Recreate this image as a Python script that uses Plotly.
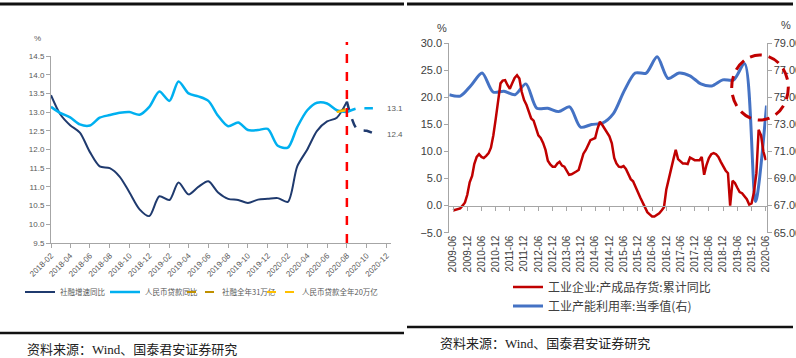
import pandas as pd
import plotly.graph_objects as go

W, H = 796, 358

# ---------------- Left chart data ----------------
left_dates = pd.date_range("2018-02-01", "2020-08-01", freq="MS")
tsf_growth = [13.45, 12.95, 12.65, 12.45, 11.93, 11.55, 11.5, 11.27, 10.85, 10.4, 10.22,
              10.75, 10.65, 11.12, 10.8, 11.0, 11.15, 10.85, 10.68, 10.65, 10.57, 10.66,
              10.68, 10.7, 10.6, 11.55, 12.0, 12.5, 12.75, 12.85, 13.28]
loan_growth = [13.14, 12.98, 12.86, 12.67, 12.64, 12.85, 12.92, 12.98, 13.0, 12.93, 13.14,
               13.55, 13.3, 13.82, 13.5, 13.42, 13.3, 12.9, 12.62, 12.72, 12.52, 12.52,
               12.55, 12.1, 12.05, 12.6, 13.05, 13.25, 13.23, 13.05, 13.0]
fc_dates = ["2020-08-01", "2020-09-01", "2020-10-01", "2020-11-01"]
tsf_fc = [13.28, 12.55, 12.5, 12.4]
loan_fc = [13.0, 13.1, 13.1, 13.1]
gold_dates = ["2020-07-01", "2020-08-01"]
tsf31 = [13.0, 13.1]
loan20 = [13.0, 13.05]
left_ticks = pd.date_range("2018-02-01", "2020-12-01", freq="2MS")
left_ticktext = [d.strftime("%Y-%m") for d in left_ticks]

# ---------------- Right chart data ----------------
red_dates = pd.date_range("2009-06-01", "2020-06-01", freq="MS")
inventory_yoy = [
    -0.9, -0.8, -0.7, -0.5, 0.0, 0.6, 2.0,
    4.3, 5.5, 7.7, 9.0, 9.5, 9.0, 8.8, 9.2, 9.7, 10.7, 13.0, 16.0,
    19.8, 22.6, 23.1, 23.2, 22.3, 21.6, 22.6, 23.6, 24.1, 23.5, 21.0, 19.5,
    18.6, 17.3, 16.1, 15.7, 14.5, 13.0, 12.5, 11.6, 10.3, 8.3, 7.6, 7.2,
    7.2, 7.8, 8.1, 7.4, 7.2, 6.5, 5.7, 5.8, 6.0, 6.3, 6.6, 8.0,
    9.6, 10.3, 11.2, 12.1, 12.3, 12.5, 14.2, 15.5, 14.9, 14.2, 13.4, 12.8,
    11.5, 8.8, 7.8, 7.2, 7.1, 7.3, 6.8, 5.8, 4.9, 4.5, 3.6, 2.5,
    1.5, 0.6, -0.4, -1.2, -1.6, -2.0, -2.0, -1.7, -1.4, -0.9, -0.3, 3.0,
    5.2, 6.8, 8.5, 10.3, 8.6, 8.1, 7.8, 7.8, 7.7, 8.9, 8.6, 8.4,
    8.4, 8.4, 9.0, 5.7, 7.5, 8.8, 9.5, 9.7, 9.5, 9.0, 8.1, 7.2,
    6.5, 6.0, 0.0, 4.6, 4.2, 3.3, 2.5, 2.3, 1.8, 1.2, 0.2, 0.4,
    2.5, 6.0, 14.0, 13.0, 10.0, 8.4]
quarters = [f"{y}Q{q}" for y in range(2013, 2021) for q in range(1, 5)][:30]
capacity_util = [75.2, 75.1, 75.9, 76.8, 75.4, 75.45, 75.2, 76.0, 74.2, 74.2,
                 73.95, 74.3, 72.8, 73.0, 73.1, 73.8, 75.5, 76.8, 76.8, 78.0,
                 76.4, 76.8, 76.6, 76.0, 75.85, 76.3, 76.3, 77.5, 67.3, 74.4]
right_ticks = pd.date_range("2009-06-01", "2020-06-01", freq="6MS")
right_ticktext = [d.strftime("%Y-%m") for d in right_ticks]

def px(x):
    return x / W

def py(y):
    return 1 - y / H

fig = go.Figure()

GRAY = "#A6A6A6"
TXT = "#595959"
NAVY = "#1F3A6E"
LBLUE = "#00B0F0"

# left traces
fig.add_trace(go.Scatter(x=left_dates, y=tsf_growth, mode="lines", name="社融增速同比",
                         line=dict(color=NAVY, width=2, shape="spline", smoothing=0.8),
                         xaxis="x", yaxis="y", legend="legend"))
fig.add_trace(go.Scatter(x=left_dates, y=loan_growth, mode="lines", name="人民币贷款同比",
                         line=dict(color=LBLUE, width=2.5, shape="spline", smoothing=0.8),
                         xaxis="x", yaxis="y", legend="legend5"))
fig.add_trace(go.Scatter(x=gold_dates, y=tsf31, mode="lines", name="社融全年31万亿",
                         line=dict(color="#BF9000", width=2, dash="dash"),
                         xaxis="x", yaxis="y", legend="legend4"))
fig.add_trace(go.Scatter(x=gold_dates, y=loan20, mode="lines", name="人民币贷款全年20万亿",
                         line=dict(color="#FFC000", width=2, dash="dash"),
                         xaxis="x", yaxis="y", legend="legend3"))
fig.add_trace(go.Scatter(x=fc_dates, y=tsf_fc, mode="lines", showlegend=False,
                         line=dict(color=NAVY, width=2.5, dash="dash", shape="spline", smoothing=0.8),
                         xaxis="x", yaxis="y"))
fig.add_trace(go.Scatter(x=fc_dates, y=loan_fc, mode="lines", showlegend=False,
                         line=dict(color=LBLUE, width=2.5, dash="dash", shape="spline", smoothing=0.8),
                         xaxis="x", yaxis="y"))

# right traces
# invisible carrier so the bottom label axis (x2) is drawn
fig.add_trace(go.Scatter(x=red_dates, y=inventory_yoy, mode="lines", showlegend=False,
                         hoverinfo="skip", line=dict(color="rgba(0,0,0,0)", width=0),
                         xaxis="x2", yaxis="y2"))
fig.add_trace(go.Scatter(x=red_dates, y=inventory_yoy, mode="lines",
                         name="工业企业:产成品存货:累计同比",
                         line=dict(color="#C00000", width=2.5),
                         xaxis="x4", yaxis="y2", legend="legend2"))
fig.add_trace(go.Scatter(x=quarters, y=capacity_util, mode="lines",
                         name="工业产能利用率:当季值(右)",
                         line=dict(color="#4472C4", width=3, shape="spline", smoothing=0.8),
                         xaxis="x3", yaxis="y3", legend="legend2"))

font_tick = dict(family="Liberation Sans, Arial, sans-serif", size=8, color=TXT)
font_tick_r = dict(family="Liberation Sans, Arial, sans-serif", size=11, color="#404040")
legfont_l = dict(family="Noto Sans CJK SC, sans-serif", size=7.5, color=TXT)
R_RANGE = ["2009-04-14", "2020-06-10"]

def small_legend(x):
    return dict(orientation="h", x=px(x), y=py(292), xanchor="left", yanchor="middle",
                font=legfont_l, bgcolor="rgba(0,0,0,0)", itemwidth=30)

fig.update_layout(
    width=W, height=H, margin=dict(l=0, r=0, t=0, b=0, autoexpand=False),
    paper_bgcolor="white", plot_bgcolor="rgba(0,0,0,0)",
    xaxis=dict(domain=[px(51), px(391)], type="date",
               range=["2018-02-01", "2020-12-15"],
               tickvals=list(left_ticks), ticktext=left_ticktext, tickangle=-45,
               showline=True, linecolor=GRAY, ticks="outside", ticklen=4, tickcolor=GRAY,
               showgrid=False, zeroline=False, tickfont=font_tick, anchor="y"),
    yaxis=dict(domain=[py(243), py(56)], range=[9.5, 14.5], dtick=0.5, tickformat=".1f",
               showline=True, linecolor=GRAY, ticks="outside", ticklen=4, tickcolor=GRAY,
               showgrid=False, zeroline=False, tickfont=font_tick, anchor="x"),
    # bottom axis carrying the rotated labels only
    xaxis2=dict(domain=[px(449.3), px(766.5)], type="date", range=R_RANGE,
                tickvals=list(right_ticks), ticktext=right_ticktext, tickangle=-90,
                showline=False, ticks="", showgrid=False, zeroline=False,
                tickfont=dict(family="Liberation Sans, Arial, sans-serif", size=10, color="#404040"),
                anchor="y2"),
    # axis line with ticks at the zero level
    xaxis4=dict(overlaying="x2", type="date", range=R_RANGE,
                tickvals=list(right_ticks), showticklabels=False,
                showline=True, linecolor=GRAY, ticks="outside", ticklen=4, tickcolor=GRAY,
                showgrid=False, zeroline=False, anchor="free", position=py(205.6)),
    xaxis3=dict(overlaying="x2", type="category", range=[0, 29], visible=False, anchor="y3"),
    yaxis2=dict(domain=[py(232.7), py(43.3)], range=[-5, 30], dtick=5, tick0=0, tickformat=".1f",
                showline=True, linecolor=GRAY, ticks="outside", ticklen=4, tickcolor=GRAY,
                showgrid=False, zeroline=False, tickfont=font_tick_r, anchor="x2"),
    yaxis3=dict(overlaying="y2", side="right", range=[65, 79], dtick=2, tick0=65, tickformat=".2f",
                showline=True, linecolor=GRAY, ticks="outside", ticklen=4, tickcolor=GRAY,
                showgrid=False, zeroline=False, tickfont=font_tick_r, anchor="x2"),
    legend=small_legend(20),
    legend5=small_legend(105),
    legend4=small_legend(182),
    legend3=small_legend(262),
    legend2=dict(orientation="v", x=px(508), y=py(296.5), xanchor="left", yanchor="middle",
                 font=dict(family="Noto Sans CJK SC, sans-serif", size=12, color="#404040"),
                 bgcolor="rgba(0,0,0,0)", tracegroupgap=0),
    showlegend=True,
)

shapes = []
# red vertical dashed line at last actual month
shapes.append(dict(type="line", xref="x", yref="paper",
                   x0=left_dates[-1], x1=left_dates[-1], y0=py(243), y1=py(42),
                   line=dict(color="#FF0000", width=2.5, dash="dash")))
# dashed circle on right chart
shapes.append(dict(type="circle", xref="paper", yref="paper",
                   x0=px(731.7), x1=px(788.3), y0=py(120), y1=py(55),
                   line=dict(color="#C00000", width=3, dash="12px,7px")))
# separator lines
for x0, x1, y, w in [(0, 404, 4, 3), (0, 404, 333, 2.5), (407, 793, 4, 3), (407, 793, 327, 2.5)]:
    shapes.append(dict(type="line", xref="paper", yref="paper",
                       x0=px(x0), x1=px(x1), y0=py(y), y1=py(y),
                       line=dict(color="#111111", width=w)))
fig.update_layout(shapes=shapes)

ann = []
def pct(x, y, size, color):
    return dict(text="%", xref="paper", yref="paper", x=px(x), y=py(y), showarrow=False,
                xanchor="center", yanchor="middle",
                font=dict(family="Liberation Sans, sans-serif", size=size, color=color))
ann.append(pct(37, 38, 8, TXT))
ann.append(pct(442, 28, 11, "#404040"))
ann.append(pct(786, 25, 11, "#404040"))
ann.append(dict(text=f"{loan_fc[-1]:.1f}", xref="x", yref="y", x=fc_dates[-1], y=loan_fc[-1],
                xanchor="left", yanchor="middle", xshift=8, showarrow=False,
                font=dict(family="Liberation Sans, sans-serif", size=8, color=TXT)))
ann.append(dict(text=f"{tsf_fc[-1]:.1f}", xref="x", yref="y", x=fc_dates[-1], y=tsf_fc[-1],
                xanchor="left", yanchor="middle", xshift=8, showarrow=False,
                font=dict(family="Liberation Sans, sans-serif", size=8, color=TXT)))
src_font = dict(family="Liberation Serif, Noto Sans CJK SC, serif", size=13, color="#222222")
ann.append(dict(text="资料来源：Wind、国泰君安证券研究", xref="paper", yref="paper",
                x=px(25), y=py(349), xanchor="left", yanchor="middle", showarrow=False, font=src_font))
ann.append(dict(text="资料来源：Wind、国泰君安证券研究", xref="paper", yref="paper",
                x=px(438), y=py(343), xanchor="left", yanchor="middle", showarrow=False, font=src_font))
fig.update_layout(annotations=ann)

fig.write_html("out.html", config={"displayModeBar": False},
               post_script="document.body.style.margin='0px';document.body.style.overflow='hidden';")
